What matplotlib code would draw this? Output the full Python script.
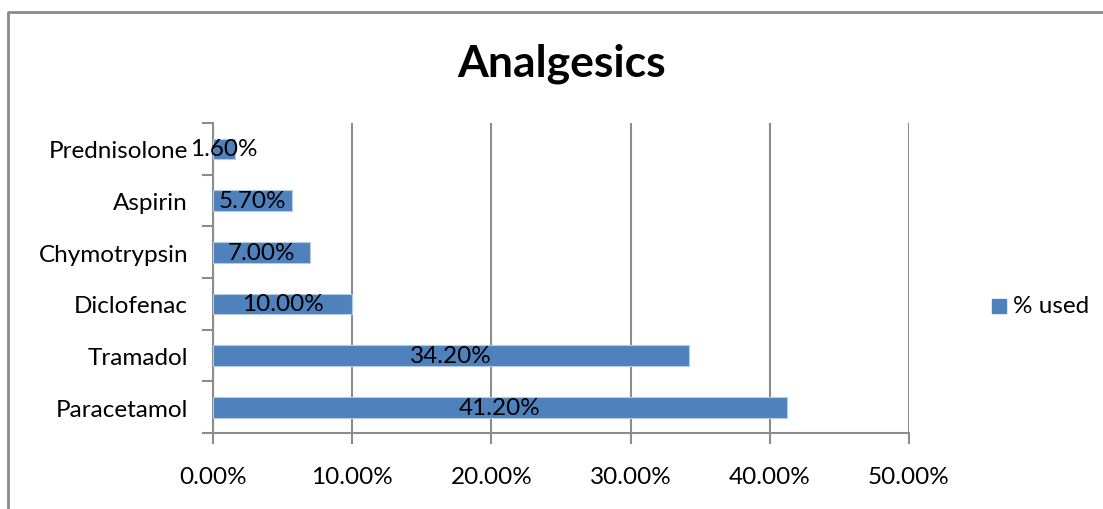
import matplotlib
matplotlib.use("Agg")
import matplotlib.pyplot as plt
from matplotlib.patches import Rectangle
from matplotlib.lines import Line2D
import numpy as np

categories = ["Paracetamol", "Tramadol", "Diclofenac", "Chymotrypsin", "Aspirin", "Prednisolone"]
pct_used = [41.2, 34.2, 10.0, 7.0, 5.7, 1.6]
x_ticks = [0, 10, 20, 30, 40, 50]
x_tick_labels = ["0.00%", "10.00%", "20.00%", "30.00%", "40.00%", "50.00%"]
series_name = "% used"
title = "Analgesics"

plt.rcParams['font.family'] = ['Lato', 'DejaVu Sans']

BAR = "#4F81BD"
GRID = "#8C8C8C"
FS = 17.5

fig = plt.figure(figsize=(11.03, 5.10), dpi=100)
ax = fig.add_axes([213/1103, 1 - 434/510, (909 - 213)/1103, (434 - 124)/510])

y = np.arange(len(categories))
ax.barh(y, pct_used, height=0.4, color=BAR, edgecolor="#B4CAE6", linewidth=0.8, zorder=3)

for yi, v in zip(y, pct_used):
    ax.text(v / 2, yi, f"{v:.2f}%", ha="center", va="center", fontsize=FS, color="black", zorder=4)

ax.set_xlim(0, 50)
ax.set_ylim(-0.5, len(categories) - 0.5)

ax.set_xticks(x_ticks)
ax.set_xticklabels(x_tick_labels, fontsize=FS)
ax.tick_params(axis="x", length=8, width=1.5, color=GRID, pad=16, direction="out")

ax.set_yticks(y)
ax.set_yticklabels(categories, fontsize=FS)
ax.tick_params(axis="y", which="major", length=0, pad=18)
ax.set_yticks(np.arange(-0.5, len(categories)), minor=True)
ax.tick_params(axis="y", which="minor", length=8, width=1.5, color=GRID, direction="out")

ax.grid(axis="x", color=GRID, linewidth=1.5, zorder=0)
for s in ["top", "right"]:
    ax.spines[s].set_visible(False)
for s in ["left", "bottom"]:
    ax.spines[s].set_color(GRID)
    ax.spines[s].set_linewidth(1.5)

fig.text(562/1103, 1 - 64/510, title, ha="center", va="center", fontsize=32, fontweight="bold")

# legend
fig.patches.append(Rectangle((992/1103, 1 - 314/510), 14/1103, 14/510,
                             transform=fig.transFigure, color=BAR))
fig.text(1013/1103, 1 - 307/510, series_name, ha="left", va="center", fontsize=FS)

# chart frame
fig.lines.append(Line2D([8/1103, 8/1103, 1102/1103], [0, 1 - 13/510, 1 - 13/510],
                        transform=fig.transFigure, color="#8A8A8A", linewidth=2))

fig.savefig("out.png", dpi=100)
